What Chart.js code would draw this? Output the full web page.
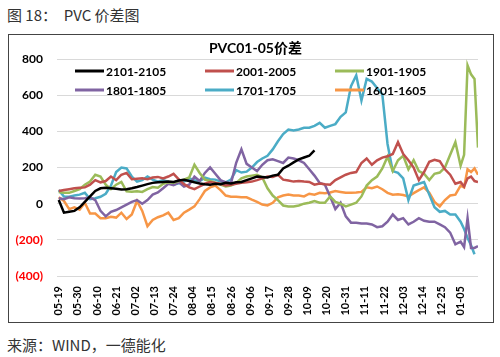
<!DOCTYPE html>
<html><head><meta charset="utf-8">
<script src="https://cdn.jsdelivr.net/npm/chart.js@4.4.0/dist/chart.umd.min.js"></script>
<style>
html,body{margin:0;padding:0;background:#fff;width:500px;height:357px;overflow:hidden;}
#hdr{position:absolute;left:7px;top:5px;font:15px "Noto Sans CJK SC","Noto Sans",sans-serif;color:#333;white-space:pre;line-height:20px;}
#box{position:absolute;left:8px;top:34px;width:484px;height:287px;border:1px solid #444;}
#ftr{position:absolute;left:7px;top:335px;font:15px "Noto Sans CJK SC","Noto Sans",sans-serif;color:#333;white-space:pre;line-height:20px;}
#c{position:absolute;left:0;top:0;}
</style></head>
<body>
<div id="hdr">图 18：  PVC 价差图</div>
<div id="box"></div>
<div id="ftr">来源：WIND，一德能化</div>
<canvas id="c" width="500" height="357"></canvas>
<script>
const chartTitle = 'PVC01-05价差';
const xLabels = ['05-19','05-30','06-10','06-21','07-02','07-13','07-24','08-04','08-15','08-26','09-06','09-17','09-28','10-09','10-20','10-31','11-11','11-22','12-03','12-14','12-25','01-05'];
const days = [0,3,6,9,12,15,18,21,24,27,30,33,36,39,42,45,48,51,54,57,60,63,66,69,72,75,78,81,84,87,90,93,96,99,102,105,108,111,114,117,120,123,126,129,132,135,138,141,144,147,150,153,156,159,162,165,168,171,174,177,180,183,186,189,192,195,198,201,204,207,210,213,216,219,222,225,228,231,233,235,237,239,241];
const seriesNames = ['2101-2105','2001-2005','1901-1905','1801-1805','1701-1705','1601-1605'];
const s2101 = [20,-50,-45,-40,-20,10,40,70,85,88, 85,82,78,80,85,92,100,108,115,118, 120,122,120,128,132,125,118,112,108,105, 110,108,115,112,118,120,130,140,150,148, 145,155,160,195,210,228,245,255,265,295];
const s2001 = [70,75,80,85,88,90,105,130,118,125, 150,130,160,170,135,138,140,135,145,148, 140,150,165,135,108,90,80,95,110,120, 115,110,100,105,110,115,118,122,130,140, 150,148,160,133,128,122,125,122,120,105, 112,108,105,130,145,160,170,175,225,250, 215,240,255,262,275,340,275,240,200,130, 175,232,243,235,190,160,110,120, 95,140,150,125,120];
const s1901 = [65,60,60,70,80,105,122,160,150,105, 80,105,120,68,66,68,65,80,92,88, 110,118,116,125,133,145,215,170,133,125, 116,105,95,100,115,140,150,155,160,145, 85,45,20,-10,-15,-15,-10,0,5,15, 5,5,40,10,0,-15,-5,5,40,100, 130,150,195,260,180,240,265,190,240,180, 165,130,165,172,200,270,340,210, 270,765,715,690,310];
const s1801 = [30,25,35,30,28,30,35,20,-40,-70, -45,-35,-20,-5,10,20,0,20,50,62, 85,110,102,118,95,105,150,125,170,200, 165,130,118,113,226,300,220,200,180,215, 240,245,235,225,255,250,240,225,190,155, 115,105,40,-30,5,-70,-105,-105,-110,-110, -115,-130,-125,-100,-60,-90,-80,-115,-100,-80, -95,-100,-100,-115,-130,-160,-225,-210, -240,-80,-245,-245,-235];
const s1701 = [75,40,38,45,50,60,25,30,38,55, 100,175,200,195,150,122,130,150,133,122, 130,120,105,112,122,140,130,125,144,135, 133,122,118,133,185,172,177,200,230,250, 265,300,345,385,410,405,410,420,420,430, 447,420,430,440,480,505,650,710,570,690, 675,640,605,330,180,170,140,20,100,110, 120,50,-20,-45,-40,-60,-60,-100, -140,-190,-230,-280,null];
const s1601 = [35,15,-30,-20,-33,5,-55,-55,-80,-80, -72,-77,-50,-85,-60,15,-40,-125,-90,-75, -65,-50,-90,-80,-50,-33,-15,25,70,90, 100,75,45,38,38,35,35,22,10,-5, -10,5,35,45,50,45,45,40,55,50, 60,58,62,70,65,60,60,62,65,90, 85,95,80,60,50,52,48,40,58,75, 90,60,10,-15,20,45,50,100, 90,190,175,195,160];
const seriesValues = [s2101,s2001,s1901,s1801,s1701,s1601];
const seriesColors = ['#000000','#C0504D','#9BBB59','#8064A2','#4BACC6','#F79646'];

const fontFam = 'Lato, "Noto Sans CJK SC", sans-serif';

const overlay = {
  id:'overlay',
  afterDatasetsDraw(chart){
    const ctx = chart.ctx;
    const a = chart.chartArea;
    ctx.save();
    ctx.fillStyle = '#000';
    ctx.font = 'bold 14px ' + fontFam;
    ctx.textAlign = 'center'; ctx.textBaseline = 'middle';
    ctx.fillText(chartTitle, (a.left + a.right)/2 - 12, a.top - 11);
    const cols = [a.left + 18, a.left + 148, a.left + 278];
    const rows = [a.top + 12, a.top + 31];
    chart.data.datasets.forEach((ds,k)=>{
      const x = cols[k%3], y = rows[Math.floor(k/3)];
      ctx.strokeStyle = ds.borderColor; ctx.lineWidth = 3;
      ctx.beginPath(); ctx.moveTo(x,y); ctx.lineTo(x+29,y); ctx.stroke();
      ctx.fillStyle = '#000'; ctx.font = 'bold 12px ' + fontFam; ctx.textAlign = 'left';
      ctx.fillText(ds.label, x+31, y+1);
    });
    ctx.restore();
  }
};

new Chart(document.getElementById('c'), {
  type:'line',
  data:{
    datasets: seriesNames.map((name,k)=>({
      label:name,
      data: seriesValues[k].map((v,j)=>({x:days[j], y:v})),
      borderColor: seriesColors[k],
      backgroundColor: seriesColors[k],
      borderWidth:2.5,
      pointRadius:0,
      tension:0,
      fill:false,
      spanGaps:false
    }))
  },
  options:{
    responsive:false,
    animation:false,
    devicePixelRatio:1,
    layout:{padding:{top:59,right:22,left:0,bottom:0}},
    plugins:{legend:{display:false},title:{display:false},tooltip:{enabled:false}},
    scales:{
      x:{
        type:'linear',
        min:-1, max:241,
        grid:{display:false,drawTicks:false},
        border:{display:false},
        afterBuildTicks:(s)=>{ s.ticks = xLabels.map((l,k)=>({value:k*11})); },
        afterFit:(s)=>{ s.height = 81; },
        ticks:{
          autoSkip:false, minRotation:90, maxRotation:90, padding:10,
          color:'#000', font:{family:fontFam, size:11, weight:'bold'},
          callback:(v)=> xLabels[Math.round(v/11)]
        }
      },
      y:{
        min:-400, max:800,
        grid:{color:'#d9d9d9', lineWidth:1, drawTicks:false},
        border:{display:false},
        afterFit:(s)=>{ s.width = 57; },
        ticks:{
          stepSize:200, padding:14,
          color:(c)=> c.tick && c.tick.value < 0 ? '#FF0000' : '#000',
          font:{family:fontFam, size:12, weight:'bold'},
          callback:(v)=> v < 0 ? '(' + Math.abs(v) + ')' : String(v)
        }
      }
    }
  },
  plugins:[overlay]
});
</script>
</body></html>
